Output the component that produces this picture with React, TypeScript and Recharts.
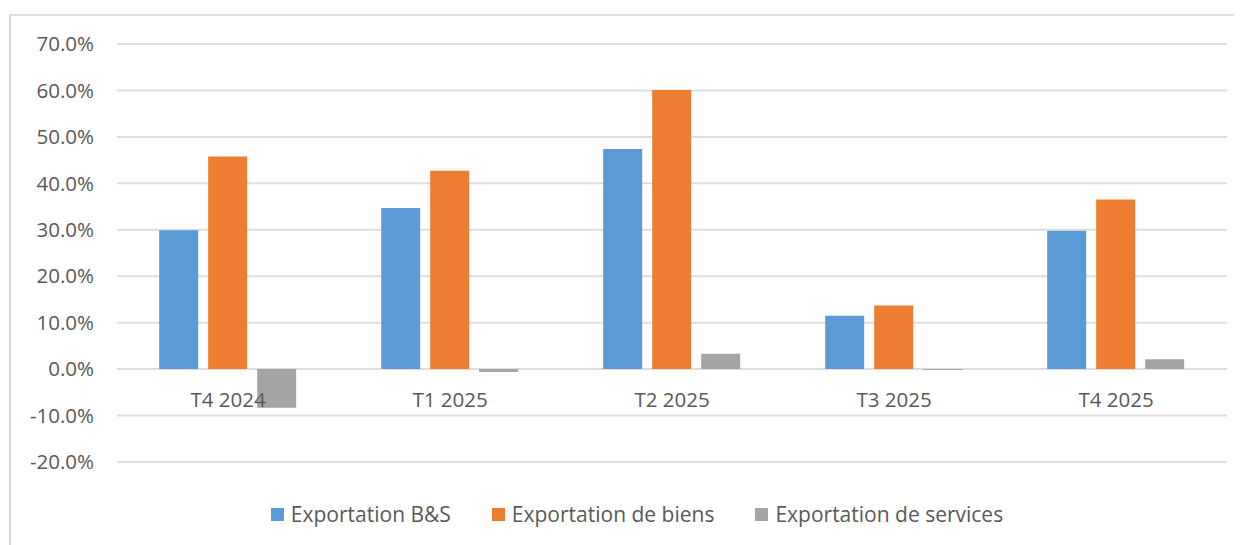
import React from "react";
import { BarChart, Bar, XAxis, YAxis, CartesianGrid, Legend } from "recharts";

const categories = ["T4 2024", "T1 2025", "T2 2025", "T3 2025", "T4 2025"];
const exportBS = [29.9, 34.7, 47.4, 11.5, 29.8];
const exportBiens = [45.8, 42.7, 60.1, 13.7, 36.5];
const exportServices = [-8.3, -0.6, 3.3, -0.2, 2.1];
const yTicks = [-20, -10, 0, 10, 20, 30, 40, 50, 60, 70];

const seriesNames = ["Exportation B&S", "Exportation de biens", "Exportation de services"];
const colors = ["#5B9BD5", "#ED7D31", "#A5A5A5"];

const data = categories.map((c, i) => ({
  cat: c,
  bs: exportBS[i],
  biens: exportBiens[i],
  services: exportServices[i],
}));

const FONT = "'Open Sans', sans-serif";
const TEXT = "#595959";

const XTick = (props: any) => {
  const { x, y, payload } = props;
  return (
    <text
      x={x}
      y={y - 62}
      dy="0.36em"
      textAnchor="middle"
      fill={TEXT}
      fontSize={20.5}
      fontFamily={FONT}
    >
      {payload.value}
    </text>
  );
};

const LegendContent = () => (
  <div
    style={{
      display: "flex",
      justifyContent: "center",
      alignItems: "center",
      height: 30,
      paddingLeft: 32,
      fontFamily: FONT,
      fontSize: 21,
      color: TEXT,
      boxSizing: "border-box",
    }}
  >
    {seriesNames.map((n, i) => (
      <div
        key={n}
        style={{ display: "flex", alignItems: "center", marginRight: i < seriesNames.length - 1 ? 41 : 0 }}
      >
        <div style={{ width: 13, height: 13, background: colors[i], marginRight: 7 }} />
        <span>{n}</span>
      </div>
    ))}
  </div>
);

export default function App() {
  return (
    <div style={{ position: "relative", width: 1226, height: 537 }}>
      <div
        style={{
          position: "absolute",
          left: 1,
          top: 6,
          right: -8,
          bottom: 0,
          borderTop: "2px solid #dedede",
          borderLeft: "2px solid #d9d9d9",
        }}
      />
      <BarChart
        width={1226}
        height={537}
        data={data}
        margin={{ top: 36, right: 7, left: 0, bottom: 52 }}
        barCategoryGap="19%"
        barGap={10}
      >
        <CartesianGrid vertical={false} stroke="#dedede" strokeWidth={2} />
        <XAxis
          dataKey="cat"
          height={1}
          axisLine={false}
          tickLine={false}
          tickSize={0}
          tickMargin={0}
          tick={<XTick />}
          interval={0}
        />
        <YAxis
          width={109}
          domain={[-20, 70]}
          ticks={yTicks}
          axisLine={false}
          tickLine={false}
          tickSize={0}
          tickMargin={23}
          tickFormatter={(v: number) => v.toFixed(1) + "%"}
          tick={{ fill: TEXT, fontSize: 20.5, fontFamily: FONT }}
          allowDataOverflow
        />
        <Legend
          verticalAlign="bottom"
          content={<LegendContent />}
          wrapperStyle={{ height: 30, left: 0, width: 1226, top: 491, bottom: "auto" }}
        />
        <Bar dataKey="bs" name={seriesNames[0]} fill={colors[0]} isAnimationActive={false} />
        <Bar dataKey="biens" name={seriesNames[1]} fill={colors[1]} isAnimationActive={false} />
        <Bar dataKey="services" name={seriesNames[2]} fill={colors[2]} isAnimationActive={false} />
      </BarChart>
    </div>
  );
}
